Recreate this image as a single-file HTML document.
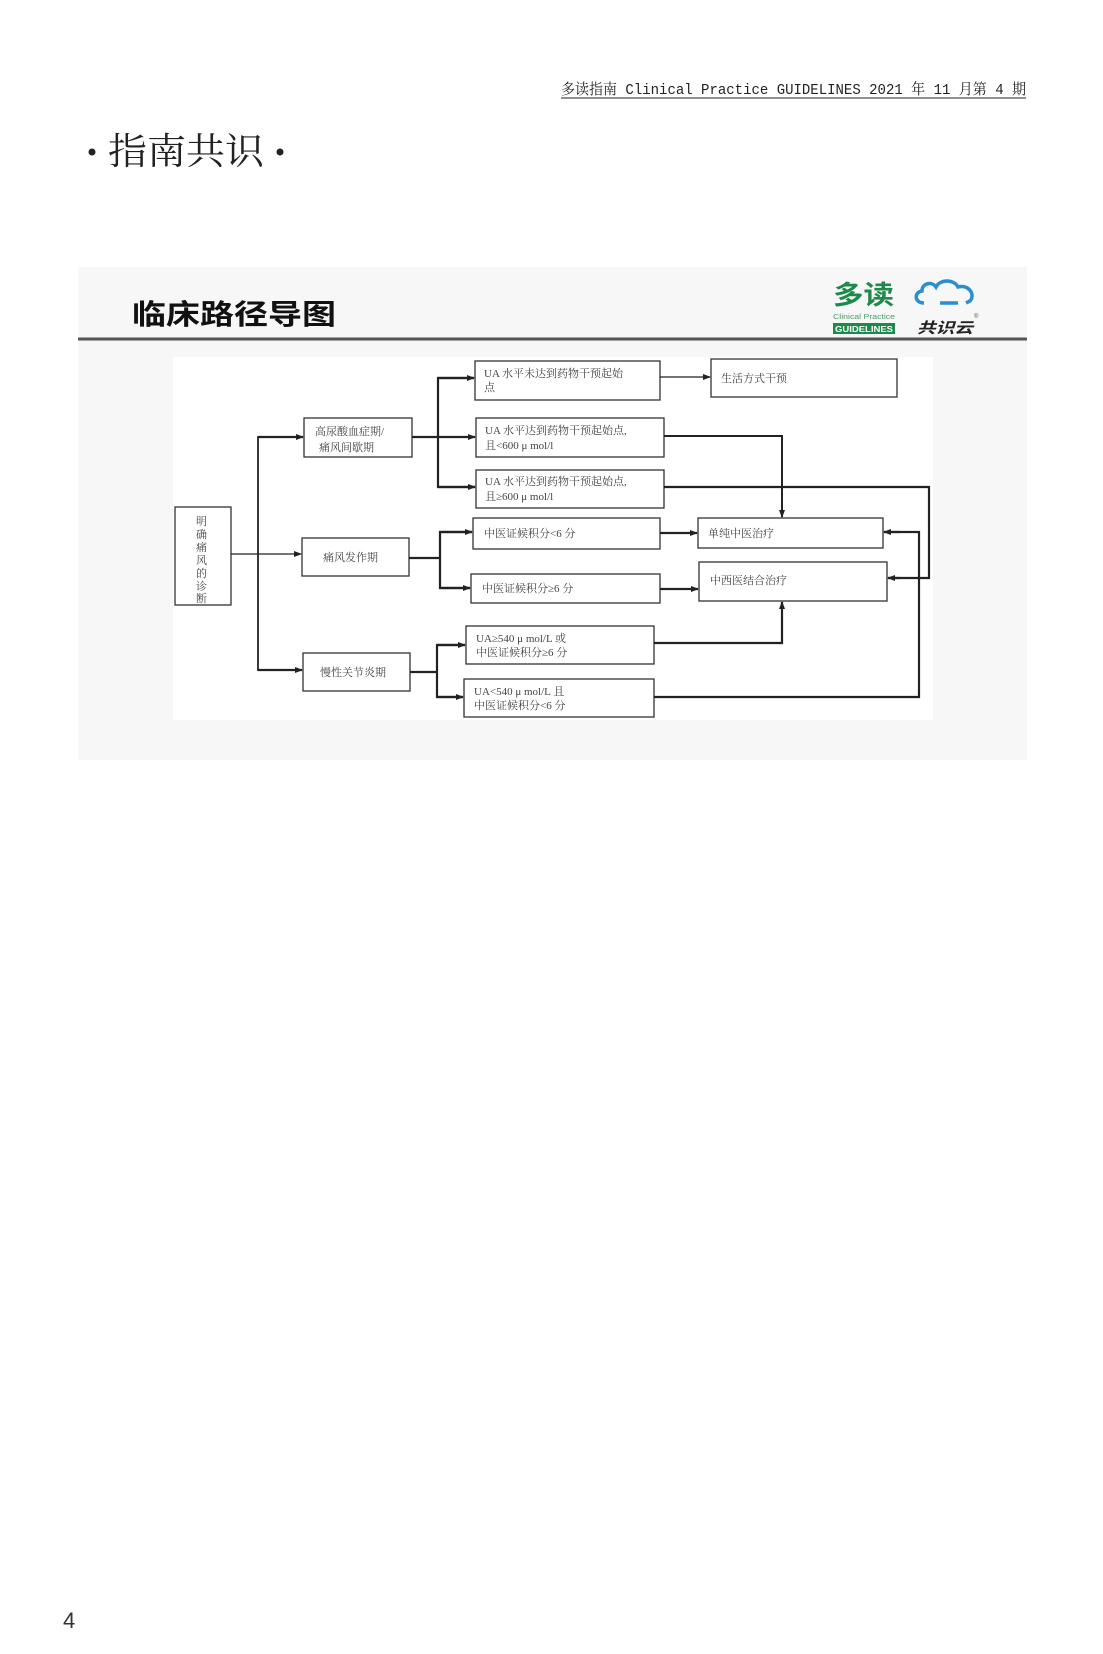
<!DOCTYPE html>
<html><head><meta charset="utf-8"><style>
html,body{margin:0;padding:0;background:#fff;}
svg{display:block}
</style></head><body>
<svg width="1103" height="1654" viewBox="0 0 1103 1654" xmlns="http://www.w3.org/2000/svg">
<defs>
<marker id="a" markerWidth="8" markerHeight="8" refX="7" refY="4" orient="auto" markerUnits="userSpaceOnUse">
<path d="M0,1 L8,4 L0,7 z" fill="#222"/></marker>
</defs>
<rect width="1103" height="1654" fill="#fff"/>
<text x="561" y="94" font-family="'Liberation Mono','Noto Serif CJK SC',monospace" font-size="15" fill="#222" textLength="465" lengthAdjust="spacingAndGlyphs">多读指南 Clinical Practice GUIDELINES 2021 年 11 月第 4 期</text>
<line x1="561" y1="98" x2="1026" y2="98" stroke="#222" stroke-width="1"/>
<circle cx="92" cy="152" r="3.5" fill="#222"/>
<circle cx="280" cy="152" r="3.5" fill="#222"/>
<text x="108" y="164" font-family="'Noto Serif CJK SC',serif" font-size="37" fill="#222" textLength="156" lengthAdjust="spacingAndGlyphs">指南共识</text>
<text x="63" y="1628" font-family="'Liberation Sans',sans-serif" font-size="22" fill="#333">4</text>

<rect x="78" y="267" width="949" height="493" fill="#f7f7f7"/>
<text x="132" y="324" font-family="'Noto Sans CJK SC',sans-serif" font-weight="bold" font-size="28" fill="#111" textLength="204" lengthAdjust="spacingAndGlyphs">临床路径导图</text>
<line x1="78" y1="339" x2="1027" y2="339" stroke="#555" stroke-width="3"/>
<text x="833" y="304" font-family="'Noto Sans CJK SC',sans-serif" font-weight="bold" font-size="26" fill="#1e8a4a" textLength="61" lengthAdjust="spacingAndGlyphs">多读</text>
<text x="833" y="319" font-family="'Liberation Sans',sans-serif" font-size="7" fill="#4a9a6a" textLength="62" lengthAdjust="spacingAndGlyphs">Clinical Practice</text>
<rect x="833" y="323" width="62" height="11" fill="#1e8a4a"/>
<text x="835" y="332" font-family="'Liberation Sans',sans-serif" font-weight="bold" font-size="8" fill="#fff" textLength="58" lengthAdjust="spacingAndGlyphs">GUIDELINES</text>
<path d="M924,303 C914,303 914,292 922,291 C922,283 932,281 936,287 C940,279 954,279 958,287 C968,284 976,294 970,301 L966,303 M940,303 L958,303" fill="none" stroke="#2a8fd0" stroke-width="3.5"/>
<text x="917" y="333" font-family="'Noto Sans CJK SC',sans-serif" font-weight="bold" font-style="italic" font-size="15" fill="#222" textLength="56" lengthAdjust="spacingAndGlyphs">共识云</text>
<text x="974" y="318" font-family="'Liberation Sans',sans-serif" font-size="6" fill="#555">®</text>

<rect x="173" y="357" width="760" height="363" fill="#fff"/>
<g fill="#fff" stroke="#333" stroke-width="1.3">
<rect x="175" y="507" width="56" height="98"/>
<rect x="304" y="418" width="108" height="39"/>
<rect x="302" y="538" width="107" height="38"/>
<rect x="303" y="653" width="107" height="38"/>
<rect x="475" y="361" width="185" height="39"/>
<rect x="711" y="359" width="186" height="38"/>
<rect x="476" y="418" width="188" height="39"/>
<rect x="476" y="470" width="188" height="38"/>
<rect x="473" y="518" width="187" height="31"/>
<rect x="471" y="574" width="189" height="29"/>
<rect x="698" y="518" width="185" height="30"/>
<rect x="699" y="562" width="188" height="39"/>
<rect x="466" y="626" width="188" height="38"/>
<rect x="464" y="679" width="190" height="38"/>
</g>
<g font-family="'Liberation Serif','Noto Serif CJK SC',serif" font-size="11" fill="#444">
<text x="196" y="525">明</text><text x="196" y="538">确</text><text x="196" y="551">痛</text><text x="196" y="564">风</text><text x="196" y="577">的</text><text x="196" y="590">诊</text><text x="196" y="602">断</text>
<text x="315" y="435">高尿酸血症期/</text><text x="319" y="451">痛风间歇期</text>
<text x="323" y="561">痛风发作期</text>
<text x="320" y="676">慢性关节炎期</text>
<text x="484" y="377">UA 水平未达到药物干预起始</text><text x="484" y="391">点</text>
<text x="721" y="382">生活方式干预</text>
<text x="485" y="434">UA 水平达到药物干预起始点,</text><text x="485" y="449">且&lt;600 μ mol/l</text>
<text x="485" y="485">UA 水平达到药物干预起始点,</text><text x="485" y="500">且≥600 μ mol/l</text>
<text x="484" y="537">中医证候积分&lt;6 分</text>
<text x="482" y="592">中医证候积分≥6 分</text>
<text x="708" y="537">单纯中医治疗</text>
<text x="710" y="584">中西医结合治疗</text>
<text x="476" y="642">UA≥540 μ mol/L 或</text><text x="476" y="656">中医证候积分≥6 分</text>
<text x="474" y="695">UA&lt;540 μ mol/L 且</text><text x="474" y="709">中医证候积分&lt;6 分</text>
</g>
<g fill="none" stroke="#222" stroke-width="2.2">
<line x1="231" y1="554" x2="301" y2="554" stroke-width="1.3" marker-end="url(#a)"/>
<polyline points="303,437 258,437 258,670 302,670" stroke-width="1.8"/>
<line x1="258" y1="437" x2="303" y2="437" marker-end="url(#a)"/>
<line x1="258" y1="670" x2="302" y2="670" marker-end="url(#a)"/>
<line x1="412" y1="437" x2="475" y2="437" marker-end="url(#a)"/>
<polyline points="474,378 438,378 438,487 475,487"/>
<line x1="438" y1="378" x2="474" y2="378" marker-end="url(#a)"/>
<line x1="438" y1="487" x2="475" y2="487" marker-end="url(#a)"/>
<line x1="660" y1="377" x2="710" y2="377" stroke-width="1.3" marker-end="url(#a)"/>
<polyline points="664,436 782,436 782,517" stroke-width="2"/>
<line x1="782" y1="500" x2="782" y2="517" stroke-width="1.3" marker-end="url(#a)"/>
<polyline points="664,487 929,487 929,578 888,578"/>
<line x1="900" y1="578" x2="888" y2="578" marker-end="url(#a)"/>
<polyline points="409,558 440,558"/>
<polyline points="472,532 440,532 440,588 470,588"/>
<line x1="440" y1="532" x2="472" y2="532" marker-end="url(#a)"/>
<line x1="440" y1="588" x2="470" y2="588" marker-end="url(#a)"/>
<line x1="660" y1="533" x2="697" y2="533" marker-end="url(#a)"/>
<line x1="660" y1="589" x2="698" y2="589" marker-end="url(#a)"/>
<polyline points="410,672 437,672"/>
<polyline points="465,645 437,645 437,697 463,697"/>
<line x1="437" y1="645" x2="465" y2="645" marker-end="url(#a)"/>
<line x1="437" y1="697" x2="463" y2="697" marker-end="url(#a)"/>
<polyline points="654,643 782,643 782,602"/>
<line x1="782" y1="615" x2="782" y2="602" stroke-width="1.3" marker-end="url(#a)"/>
<polyline points="654,697 919,697 919,532 884,532"/>
<line x1="900" y1="532" x2="884" y2="532" marker-end="url(#a)"/>
</g>
</svg>
</body></html>
